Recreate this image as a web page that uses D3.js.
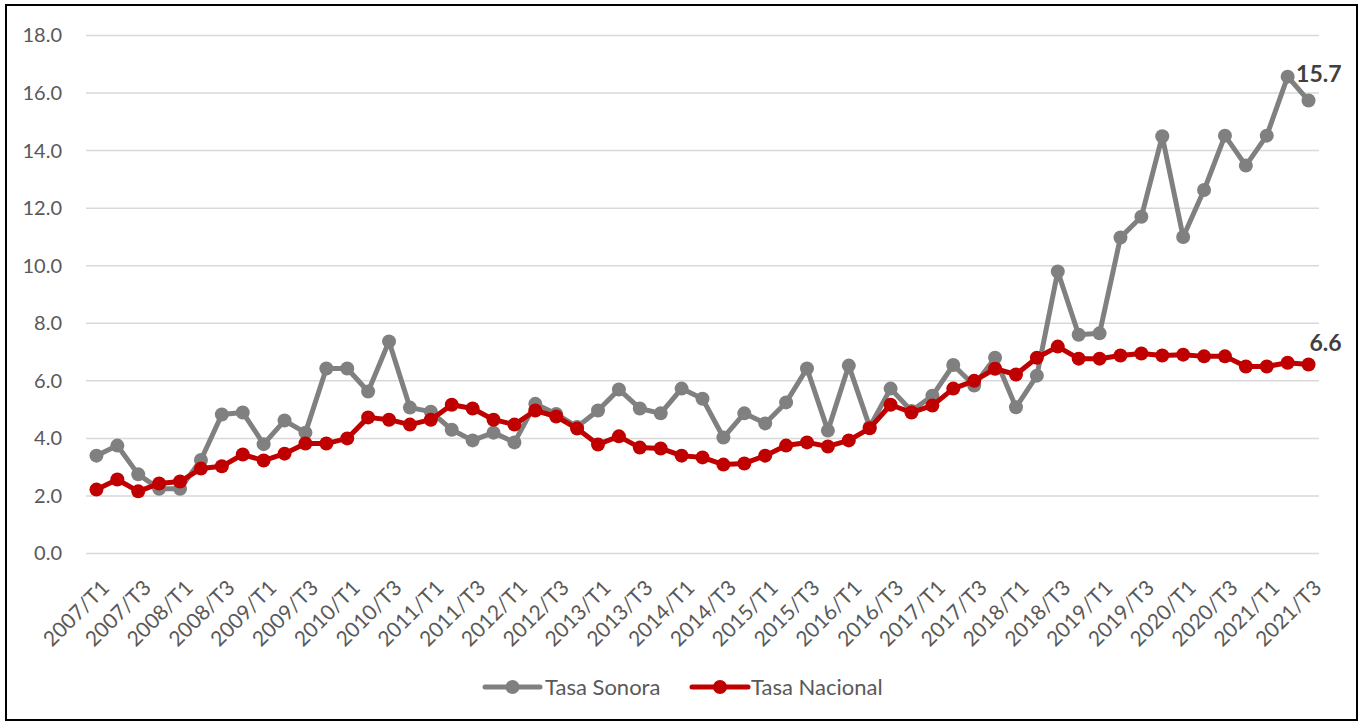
<!DOCTYPE html>
<html>
<head>
<meta charset="utf-8">
<script src="https://cdn.jsdelivr.net/npm/d3@7"></script>
<style>
  html, body { margin: 0; padding: 0; background: #fff; }
  svg { display: block; }
  text { font-family: "Lato", "Open Sans", sans-serif; }
</style>
</head>
<body>
<svg id="chart" width="1364" height="722"></svg>
<script>
const categories = [
  "2007/T1","2007/T2","2007/T3","2007/T4",
  "2008/T1","2008/T2","2008/T3","2008/T4",
  "2009/T1","2009/T2","2009/T3","2009/T4",
  "2010/T1","2010/T2","2010/T3","2010/T4",
  "2011/T1","2011/T2","2011/T3","2011/T4",
  "2012/T1","2012/T2","2012/T3","2012/T4",
  "2013/T1","2013/T2","2013/T3","2013/T4",
  "2014/T1","2014/T2","2014/T3","2014/T4",
  "2015/T1","2015/T2","2015/T3","2015/T4",
  "2016/T1","2016/T2","2016/T3","2016/T4",
  "2017/T1","2017/T2","2017/T3","2017/T4",
  "2018/T1","2018/T2","2018/T3","2018/T4",
  "2019/T1","2019/T2","2019/T3","2019/T4",
  "2020/T1","2020/T2","2020/T3","2020/T4",
  "2021/T1","2021/T2","2021/T3"
];
const tickLabels = [
  "2007/T1","2007/T3","2008/T1","2008/T3","2009/T1","2009/T3",
  "2010/T1","2010/T3","2011/T1","2011/T3","2012/T1","2012/T3",
  "2013/T1","2013/T3","2014/T1","2014/T3","2015/T1","2015/T3",
  "2016/T1","2016/T3","2017/T1","2017/T3","2018/T1","2018/T3",
  "2019/T1","2019/T3","2020/T1","2020/T3","2021/T1","2021/T3"
];
const yTicks = [0, 2, 4, 6, 8, 10, 12, 14, 16, 18];

const tasaSonora = [3.4, 3.75, 2.75, 2.25, 2.25, 3.25, 4.83, 4.9, 3.8, 4.62,
  4.2, 6.43, 6.43, 5.63, 7.37, 5.07, 4.93, 4.3, 3.93, 4.2,
  3.86, 5.2, 4.85, 4.4, 4.97, 5.7, 5.04, 4.87, 5.73, 5.38,
  4.03, 4.87, 4.52, 5.25, 6.43, 4.27, 6.53, 4.4, 5.73, 4.95,
  5.48, 6.55, 5.84, 6.8, 5.08, 6.18, 9.8, 7.6, 7.65, 10.98,
  11.7, 14.5, 11.0, 12.63, 14.52, 13.48, 14.52, 16.57, 15.74];
const tasaNacional = [2.22, 2.57, 2.16, 2.43, 2.5, 2.95, 3.03, 3.44, 3.23, 3.47,
  3.82, 3.82, 4.0, 4.73, 4.65, 4.48, 4.65, 5.17, 5.04, 4.65,
  4.48, 4.97, 4.76, 4.34, 3.79, 4.07, 3.68, 3.65, 3.4, 3.34,
  3.09, 3.13, 3.4, 3.75, 3.86, 3.72, 3.93, 4.35, 5.17, 4.9,
  5.14, 5.73, 6.0, 6.42, 6.22, 6.8, 7.19, 6.77, 6.77, 6.88,
  6.95, 6.88, 6.91, 6.85, 6.85, 6.5, 6.5, 6.63, 6.57];

const seriesNames = ["Tasa Sonora", "Tasa Nacional"];
const seriesColors = ["#808080", "#C00000"];

const svg = d3.select("#chart");

// outer frame
svg.append("rect")
  .attr("x", 6).attr("y", 5).attr("width", 1351).attr("height", 715)
  .attr("fill", "#fff").attr("stroke", "#000").attr("stroke-width", 2);

const x = d3.scalePoint().domain(categories).range([86, 1319]).padding(0.5);
const y = d3.scaleLinear().domain([0, 18]).range([553.5, 35.5]);

// gridlines
svg.append("g").selectAll("line").data(yTicks).join("line")
  .attr("x1", 86).attr("x2", 1319)
  .attr("y1", d => y(d)).attr("y2", d => y(d))
  .attr("stroke", "#d9d9d9").attr("stroke-width", 1.5);

// y axis labels
const yAxis = d3.axisLeft(y).tickValues(yTicks).tickFormat(d3.format(".1f")).tickSize(0).tickPadding(0);
const gy = svg.append("g").attr("transform", "translate(62,0)").call(yAxis);
gy.select(".domain").remove();
gy.selectAll("text").attr("font-size", 20).attr("fill", "#595959")
  .attr("font-family", "Lato, 'Open Sans', sans-serif");

// x axis labels
const xAxis = d3.axisBottom(x).tickValues(tickLabels).tickSize(0).tickPadding(0);
const gx = svg.append("g").call(xAxis);
gx.select(".domain").remove();
gx.selectAll(".tick").attr("transform", d => `translate(${x(d) + 9},584)`);
gx.selectAll("text")
  .attr("font-size", 21).attr("fill", "#595959")
  .attr("font-family", "Lato, 'Open Sans', sans-serif")
  .attr("text-anchor", "end")
  .attr("x", 0).attr("y", 0).attr("dy", "0.35em")
  .attr("transform", "rotate(-45)");

const allSeries = [tasaSonora, tasaNacional];
const line = d3.line().x((d, i) => x(categories[i])).y(d => y(d));

allSeries.forEach((vals, s) => {
  const g = svg.append("g");
  g.append("path").datum(vals)
    .attr("d", line).attr("fill", "none")
    .attr("stroke", seriesColors[s]).attr("stroke-width", 5)
    .attr("stroke-linejoin", "round").attr("stroke-linecap", "round");
  g.selectAll("circle").data(vals).join("circle")
    .attr("cx", (d, i) => x(categories[i])).attr("cy", d => y(d))
    .attr("r", 7).attr("fill", seriesColors[s]);
});

// end labels
const fmt = d3.format(".1f");
const last = categories.length - 1;
const labelOffsets = [[33, -19], [33, -13]];
allSeries.forEach((vals, s) => {
  svg.append("text")
    .attr("x", x(categories[last]) + labelOffsets[s][0])
    .attr("y", y(vals[last]) + labelOffsets[s][1])
    .attr("text-anchor", "end")
    .attr("font-size", 23).attr("font-weight", "bold").attr("fill", "#404040")
    .text(fmt(vals[last]));
});

// legend
const legendItems = [
  { x0: 485, x1: 540, tx: 545 },
  { x0: 692, x1: 748, tx: 751 }
];
const legY = 687;
legendItems.forEach((it, s) => {
  const g = svg.append("g");
  g.append("line").attr("x1", it.x0).attr("x2", it.x1).attr("y1", legY).attr("y2", legY)
    .attr("stroke", seriesColors[s]).attr("stroke-width", 5).attr("stroke-linecap", "round");
  g.append("circle").attr("cx", (it.x0 + it.x1) / 2).attr("cy", legY).attr("r", 7)
    .attr("fill", seriesColors[s]);
  g.append("text").attr("x", it.tx).attr("y", legY).attr("dy", "0.35em")
    .attr("font-size", 22).attr("fill", "#595959").text(seriesNames[s]);
});
</script>
</body>
</html>
